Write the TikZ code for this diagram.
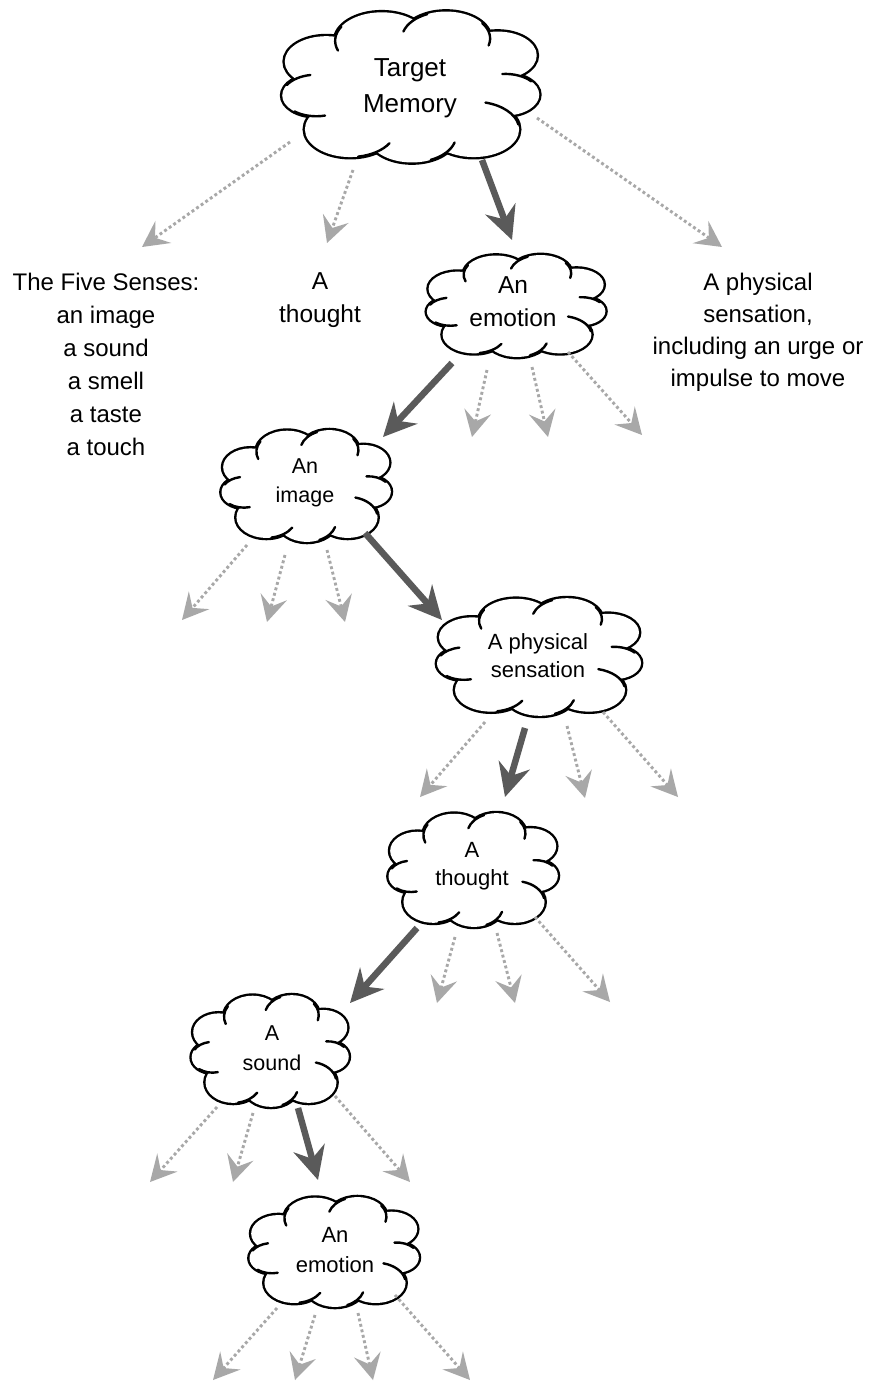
\documentclass[tikz,border=0pt]{standalone}
\usepackage{fontspec}
\setmainfont{Liberation Sans}
\usetikzlibrary{arrows.meta}

\definecolor{strong}{HTML}{5A5A5A}
\definecolor{faint}{HTML}{A8A8A8}

\tikzset{
  lead/.style={draw=strong, line width=6.5pt,
    -{Stealth[length=33pt,width=32pt,inset=11pt]}},
  branch/.style={draw=faint, line width=2.9pt, dash pattern=on 2.9pt off 2.7pt,
    -{Stealth[length=26pt,width=27pt,inset=10pt]}},
  words/.style={align=center, inner sep=0pt},
}

% puff circles of the cloud outline (unit template, y up)
\def\puffs{-0.68/0.33/0.33, -0.24/0.60/0.37, 0.27/0.63/0.35, 0.68/0.41/0.31,
  0.74/-0.10/0.27, 0.49/-0.55/0.36, 0.00/-0.63/0.35, -0.49/-0.55/0.36,
  -0.76/-0.11/0.27}
% short inner strokes where two puffs meet: centre/radius/start/end angle
\def\hooks{-0.76/-0.11/0.27/150/100, -0.24/0.60/0.37/150/200,
  0.27/0.63/0.35/115/165, 0.27/0.63/0.35/35/-15, 0.74/-0.10/0.27/40/95,
  0.49/-0.55/0.36/10/75, 0.00/-0.63/0.35/-65/-15, -0.49/-0.55/0.36/-80/-30,
  -0.76/-0.11/0.27/230/285}

% \puffcloud{cx}{cy}{width}{height}
\newcommand\puffcloud[4]{%
  \begin{scope}[shift={(#1,#2)}, xscale=#3/2, yscale=-#4/2]
    \foreach \px/\py/\pr in \puffs {\draw[line width=4.8pt] (\px,\py) circle[radius=\pr];}
    \foreach \px/\py/\pr in \puffs {\fill[white] (\px,\py) circle[radius=\pr];}
    \fill[white] (0,0) circle[radius=0.7];
    \foreach \px/\py/\pr/\a/\b in \hooks {
      \draw[line width=2.4pt, line cap=round] (\px,\py) ++(\a:\pr)
        arc[start angle=\a, end angle=\b, radius=\pr];}
  \end{scope}}

% \link{style}{name}{start}{end}
\newcommand\link[4]{%
  \coordinate (#2-s) at (#3);
  \coordinate (#2-e) at (#4);
  \draw[#1] (#2-s) -- (#2-e);}

\begin{document}
\begin{tikzpicture}[x=1pt, y=-1pt]
  \fill[white] (0,0) rectangle (871,1386);
  \useasboundingbox (0,0) rectangle (871,1386);

  % clouds
  \puffcloud{412}{87}{252}{154}
  \puffcloud{517}{306}{175}{104}
  \puffcloud{307}{486}{166}{114}
  \puffcloud{540}{657}{200}{120}
  \puffcloud{474}{870}{166}{116}
  \puffcloud{271}{1051}{154}{114}
  \puffcloud{335}{1252}{166}{112}

  \node[words, font=\fontsize{26}{36}\selectfont] (target) at (410,88) {Target\\Memory};
  \node[words, font=\fontsize{24.5}{33}\selectfont] (emo1) at (513,302) {An\\emotion};
  \node[words, font=\fontsize{21.5}{29}\selectfont] (img) at (305,483) {An\\image};
  \node[words, font=\fontsize{22}{28}\selectfont] (phys) at (538,656) {A physical\\sensation};
  \node[words, font=\fontsize{22}{28}\selectfont] (thought) at (472,866) {A\\thought};
  \node[words, font=\fontsize{21.5}{30}\selectfont] (sound) at (272,1048) {A\\sound};
  \node[words, font=\fontsize{22}{30}\selectfont] (emo2) at (335,1250) {An\\emotion};

  % first-level choices
  \node[words, font=\fontsize{24}{33}\selectfont] (senses) at (106,364)
    {The Five Senses:\\an image\\a sound\\a smell\\a taste\\a touch};
  \node[words, font=\fontsize{24.5}{33}\selectfont] (idea) at (320,300) {A\\thought};
  \node[words, font=\fontsize{24}{32}\selectfont] (body) at (758,332)
    {A physical\\sensation,\\including an urge or\\impulse to move};

  % from the target memory
  \link{branch}{t1}{290,142}{142,247}
  \link{branch}{t2}{353,170}{327,243}
  \link{lead}{t3}{482,160}{512,240}
  \link{branch}{t4}{537,118}{722,247}

  % from the first emotion
  \link{lead}{e1}{452,363}{383,437}
  \link{branch}{e2}{487,370}{472,437}
  \link{branch}{e3}{532,367}{548,437}
  \link{branch}{e4}{568,352}{642,435}

  % from the image
  \link{branch}{i1}{247,545}{182,620}
  \link{branch}{i2}{285,555}{267,622}
  \link{branch}{i3}{327,550}{345,622}
  \link{lead}{i4}{365,533}{442,620}

  % from the physical sensation
  \link{branch}{p1}{485,722}{420,797}
  \link{lead}{p2}{525,728}{505,797}
  \link{branch}{p3}{567,726}{585,798}
  \link{branch}{p4}{603,712}{678,797}

  % from the thought
  \link{lead}{h1}{417,928}{350,1003}
  \link{branch}{h2}{455,937}{437,1003}
  \link{branch}{h3}{497,933}{515,1003}
  \link{branch}{h4}{535,917}{610,1002}

  % from the sound
  \link{branch}{s1}{217,1107}{150,1182}
  \link{branch}{s2}{253,1113}{233,1182}
  \link{lead}{s3}{298,1108}{318,1180}
  \link{branch}{s4}{335,1096}{410,1182}

  % from the second emotion
  \link{branch}{m1}{277,1308}{213,1380}
  \link{branch}{m2}{315,1315}{295,1380}
  \link{branch}{m3}{358,1313}{373,1380}
  \link{branch}{m4}{395,1295}{470,1380}
\end{tikzpicture}
\end{document}
